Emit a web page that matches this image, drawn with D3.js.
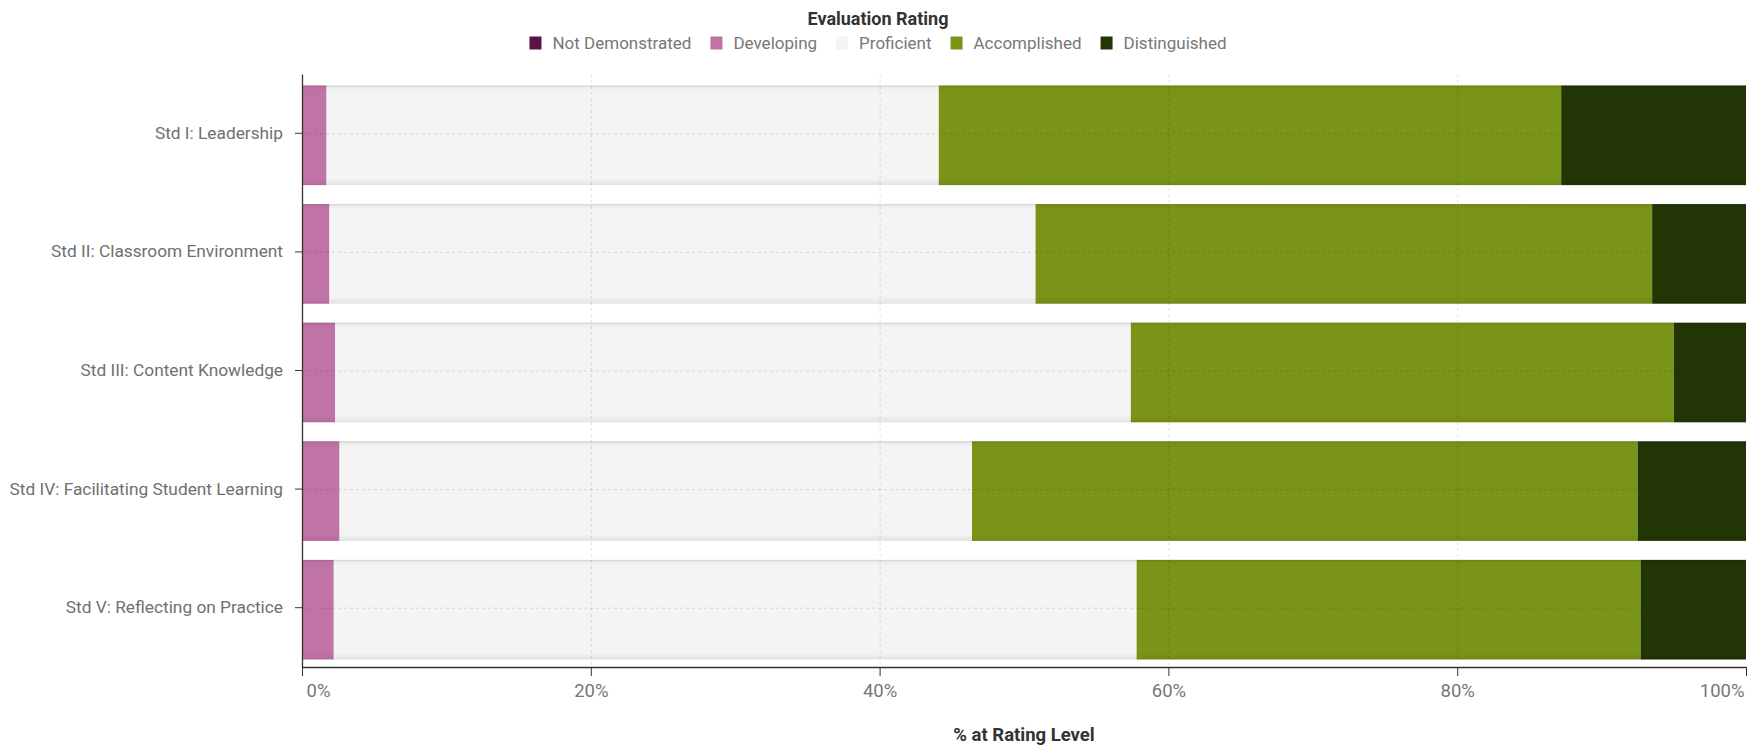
<!DOCTYPE html>
<html>

<head>
    <meta charset="UTF-8">
    <style>
        body { margin: 0; background: #fff; }
        text { font-family: Roboto, "Liberation Sans", sans-serif; }
    </style>
</head>

<body>
    <svg></svg>
    <script src="https://d3js.org/d3.v7.min.js"></script>
    <script>
        let width = 1763,
            height = 748;

        // data (% at each rating level)
        let categories = [
            "Std I: Leadership",
            "Std II: Classroom Environment",
            "Std III: Content Knowledge",
            "Std IV: Facilitating Student Learning",
            "Std V: Reflecting on Practice"
        ];
        let ratings = ["Not Demonstrated", "Developing", "Proficient", "Accomplished", "Distinguished"];
        let notDemonstrated = [0, 0, 0, 0, 0];
        let developing = [1.7, 1.9, 2.3, 2.6, 2.2];
        let proficient = [42.4, 48.9, 55.1, 43.8, 55.6];
        let accomplished = [43.1, 42.7, 37.6, 46.1, 34.9];
        let distinguished = [12.8, 6.5, 5.0, 7.5, 7.3];
        let xTicks = [0, 20, 40, 60, 80, 100];

        let colors = ["#5b1249", "#c074a6", "#f4f4f4", "#7a9417", "#223505"];

        let series = [notDemonstrated, developing, proficient, accomplished, distinguished];
        let rows = categories.map((c, i) => {
            let r = { cat: c };
            ratings.forEach((k, j) => r[k] = series[j][i]);
            return r;
        });

        let margin = { top: 74, right: 16, bottom: 81, left: 302 };

        let svg = d3.select("svg")
            .attr("width", width)
            .attr("height", height);

        let x = d3.scaleLinear()
            .domain([0, 100])
            .range([margin.left, width - margin.right - 1]);

        let y = d3.scaleBand()
            .domain(categories)
            .range([margin.top, height - margin.bottom])
            .paddingInner(0.16)
            .paddingOuter(0.08);

        let barShift = 2;

        let color = d3.scaleOrdinal()
            .domain(ratings)
            .range(colors);

        let stacked = d3.stack().keys(ratings)(rows);

        // bars
        svg.append("g")
            .selectAll("g")
            .data(stacked)
            .enter()
            .append("g")
            .attr("fill", d => color(d.key))
            .selectAll("rect")
            .data(d => d)
            .enter()
            .append("rect")
            .attr("x", d => x(d[0]))
            .attr("y", d => y(d.data.cat) + barShift)
            .attr("width", d => Math.max(0, x(d[1]) - x(d[0])))
            .attr("height", y.bandwidth());

        // soft shading on top / bottom edges of each bar
        let defs = svg.append("defs");
        let grad = defs.append("linearGradient")
            .attr("id", "shade")
            .attr("x1", 0).attr("y1", 0)
            .attr("x2", 0).attr("y2", 1);
        grad.append("stop").attr("offset", "0%").attr("stop-color", "#000").attr("stop-opacity", 0.16);
        grad.append("stop").attr("offset", "2%").attr("stop-color", "#000").attr("stop-opacity", 0.03);
        grad.append("stop").attr("offset", "6%").attr("stop-color", "#000").attr("stop-opacity", 0);
        grad.append("stop").attr("offset", "93%").attr("stop-color", "#000").attr("stop-opacity", 0);
        grad.append("stop").attr("offset", "100%").attr("stop-color", "#000").attr("stop-opacity", 0.07);

        svg.append("g")
            .selectAll("rect")
            .data(categories)
            .enter()
            .append("rect")
            .attr("x", x(0))
            .attr("y", d => y(d) + barShift)
            .attr("width", x(100) - x(0))
            .attr("height", y.bandwidth())
            .attr("fill", "url(#shade)");

        // dashed grid on top of the bars
        let grid = svg.append("g")
            .attr("stroke", "#000")
            .attr("stroke-opacity", 0.12)
            .attr("stroke-dasharray", "3,3");

        grid.selectAll("line.v")
            .data(xTicks.slice(1, -1))
            .enter()
            .append("line")
            .attr("x1", d => x(d) + 0.5)
            .attr("x2", d => x(d) + 0.5)
            .attr("y1", margin.top)
            .attr("y2", height - margin.bottom);

        grid.selectAll("line.h")
            .data(categories)
            .enter()
            .append("line")
            .attr("x1", x(0))
            .attr("x2", x(100))
            .attr("y1", d => y(d) + y.bandwidth() / 2 + 0.5)
            .attr("y2", d => y(d) + y.bandwidth() / 2 + 0.5);

        // x axis
        let xAxis = svg.append("g")
            .attr("transform", "translate(0," + (height - margin.bottom) + ")")
            .call(d3.axisBottom(x).tickValues(xTicks).tickFormat(d => d + "%").tickSize(9).tickSizeOuter(0));
        xAxis.select(".domain").attr("stroke", "#333").attr("stroke-width", 1.3);
        xAxis.selectAll(".tick line").attr("stroke", "#333");
        xAxis.selectAll(".tick text")
            .attr("fill", "#777")
            .attr("font-size", 18.5)
            .attr("dy", "0.95em")
            .attr("text-anchor", (d, i) => i === 0 ? "start" : (i === xTicks.length - 1 ? "end" : "middle"))
            .attr("dx", (d, i) => i === 0 ? 4 : (i === xTicks.length - 1 ? -2 : 0));

        // y axis
        let yAxis = svg.append("g")
            .attr("transform", "translate(" + margin.left + ",0)")
            .call(d3.axisLeft(y).tickSize(7).tickPadding(12).tickSizeOuter(0));
        yAxis.select(".domain").attr("stroke", "#333").attr("stroke-width", 1.3);
        yAxis.selectAll(".tick line").attr("stroke", "#333");
        yAxis.selectAll(".tick text")
            .attr("fill", "#707070")
            .attr("font-size", 17.3);
        svg.selectAll(".tick text").style("font-family", "Roboto, sans-serif");

        // x axis title
        svg.append("text")
            .attr("x", (x(0) + x(100)) / 2)
            .attr("y", 741)
            .attr("text-anchor", "middle")
            .attr("font-size", 18.5)
            .attr("font-weight", "bold")
            .attr("fill", "#333")
            .text("% at Rating Level");

        // legend
        let legendCenter = 878;
        svg.append("text")
            .attr("x", legendCenter)
            .attr("y", 25)
            .attr("text-anchor", "middle")
            .attr("font-size", 18)
            .attr("font-weight", "bold")
            .attr("fill", "#333")
            .text("Evaluation Rating");

        let legend = svg.append("g");
        let items = legend.selectAll("g")
            .data(ratings)
            .enter()
            .append("g");
        items.append("rect")
            .attr("width", 12)
            .attr("height", 13)
            .attr("y", -6.5)
            .attr("fill", d => color(d));
        items.append("text")
            .attr("x", 23)
            .attr("dy", "0.35em")
            .attr("font-size", 17)
            .attr("fill", "#777")
            .text(d => d);

        let offset = 0;
        items.each(function () {
            let w = this.getBBox().width;
            d3.select(this).attr("data-x", offset);
            offset += w + 19;
        });
        let total = offset - 19;
        items.attr("transform", function () {
            return "translate(" + (legendCenter - total / 2 + (+this.getAttribute("data-x"))) + ",43)";
        });
    </script>
</body>

</html>
